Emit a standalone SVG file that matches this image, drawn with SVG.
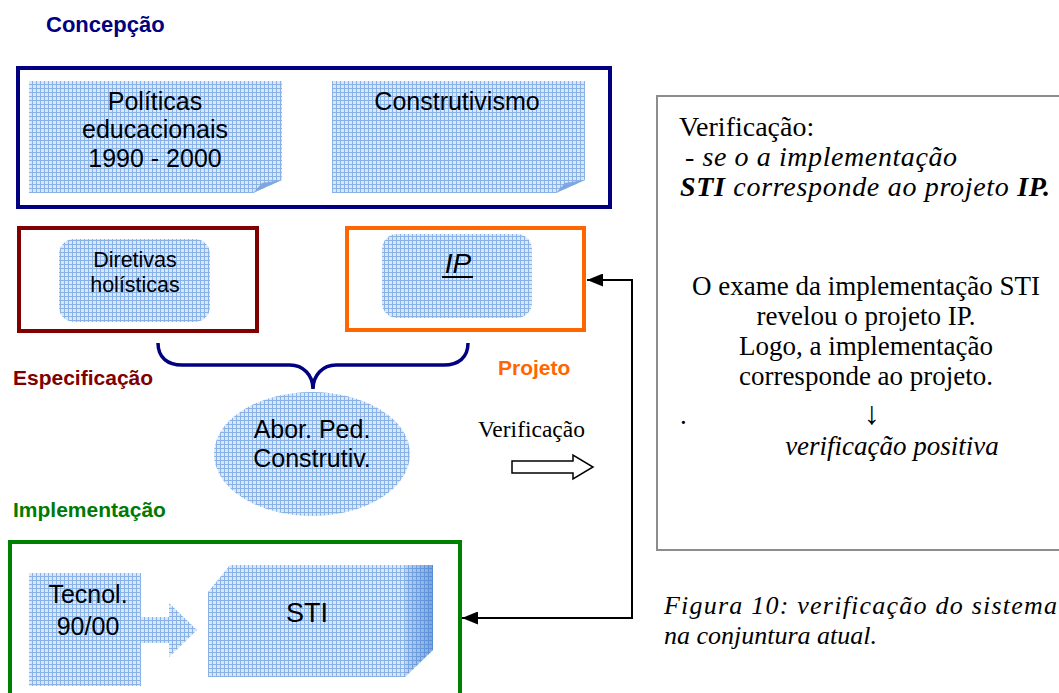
<svg xmlns="http://www.w3.org/2000/svg" width="1059" height="693" viewBox="0 0 1059 693">
<defs>
<pattern id="grid" width="4" height="4" patternUnits="userSpaceOnUse">
<rect width="4" height="4" fill="#dae7f8"/>
<path d="M0 0.5H4M0.5 0V4" stroke="#88b2e8" stroke-width="1"/>
</pattern>
<linearGradient id="side" x1="0" y1="0" x2="1" y2="0">
<stop offset="0" stop-color="#2f6fc8" stop-opacity="0.15"/>
<stop offset="1" stop-color="#2f6fc8" stop-opacity="0.55"/>
</linearGradient>
<marker id="ah" viewBox="0 0 16 13" refX="16" refY="6.5" markerWidth="16" markerHeight="13" markerUnits="userSpaceOnUse" orient="auto-start-reverse">
<path d="M0 0L16 6.5L0 13Z" fill="#000"/>
</marker>
<style>
.sans{font-family:"Liberation Sans",Arial,sans-serif;fill:#000}
.serif{font-family:"Liberation Serif","Times New Roman",serif;fill:#000}
.lbl{font-family:"Liberation Sans",Arial,sans-serif;font-weight:bold;font-size:21px}
.c{text-anchor:middle}
.frame{fill:none;stroke-width:4}
.g{fill:url(#grid)}
</style>
</defs>
<rect width="1059" height="693" fill="#fff"/>

<g id="labels">
<text class="lbl" x="46" y="32" fill="#000080" font-size="22" style="font-size:22px">Concepção</text>
<text class="lbl" x="13" y="385" fill="#800000">Especificação</text>
<text class="lbl" x="498" y="375" fill="#ff6600">Projeto</text>
<text class="lbl" x="13" y="517" fill="#007a00">Implementação</text>
</g>

<g id="concepcao">
<rect class="frame" x="18" y="68" width="592" height="139" stroke="#000080"/>
<g id="politicas">
<path class="g" d="M29 81H282V180L253 193H29Z"/>
<path d="M253 193L282 180L262 183Z" fill="#7fa7df"/>
<text class="sans c" font-size="25" x="155" y="110">Políticas</text>
<text class="sans c" font-size="25" x="155" y="138">educacionais</text>
<text class="sans c" font-size="25" x="155" y="167">1990 - 2000</text>
</g>
<g id="construtivismo">
<path class="g" d="M332 81H585V180L556 193H332Z"/>
<path d="M556 193L585 180L565 183Z" fill="#7fa7df"/>
<text class="sans c" font-size="25" x="457" y="110">Construtivismo</text>
</g>
</g>

<g id="especificacao">
<rect class="frame" x="19" y="228" width="238" height="103" stroke="#800000"/>
<rect class="g" x="59" y="239" width="151" height="83" rx="15"/>
<text class="sans c" font-size="21.5" x="135" y="267">Diretivas</text>
<text class="sans c" font-size="21.5" x="135" y="292">holísticas</text>
</g>

<g id="projeto">
<rect class="frame" x="347" y="228" width="237" height="102" stroke="#ff6600"/>
<rect class="g" x="382" y="234" width="150" height="84" rx="15"/>
<text class="sans c" font-size="28" font-style="italic" x="458" y="273">IP</text>
<line x1="442" y1="277" x2="473" y2="277" stroke="#000" stroke-width="2"/>
</g>

<g id="abordagem">
<ellipse class="g" cx="312" cy="454" rx="98" ry="62"/>
<text class="sans c" font-size="25" x="312" y="438">Abor. Ped.</text>
<text class="sans c" font-size="25" x="312" y="467">Construtiv.</text>
</g>

<g id="implementacao">
<rect class="frame" x="10" y="542" width="450" height="200" stroke="#008000"/>
<g id="tecnol">
<rect class="g" x="29" y="573" width="112" height="113"/>
<path class="g" d="M141 617H169V603L197 630L169 657V643H141Z"/>
<text class="sans c" font-size="25" x="88" y="603">Tecnol.</text>
<text class="sans c" font-size="25" x="88" y="635">90/00</text>
</g>
<g id="sti">
<path class="g" d="M208 592L230 565H433V650L405 677H208Z"/>
<path d="M405 565H433V650L405 677Z" fill="url(#side)"/>
<text class="sans c" font-size="27" x="307" y="622">STI</text>
</g>
</g>

<g id="connectors">
<path d="M158 343C158 358 168 365 182 365H290C303 365 313 375 313 389C313 375 323 365 336 365H444C458 365 468 358 468 343" fill="none" stroke="#000080" stroke-width="3.5"/>
<path d="M587 280H632V618H462" fill="none" stroke="#000" stroke-width="2" marker-start="url(#ah)" marker-end="url(#ah)"/>
<path d="M512 461H573V455L593 467L573 479V473H512Z" fill="#fff" stroke="#000" stroke-width="1.5"/>
<text class="serif" font-size="23.5" x="478" y="437">Verificação</text>
</g>

<g id="verificacao-box">
<rect x="657" y="96" width="420" height="454" fill="none" stroke="#8c8c8c" stroke-width="2"/>
<text class="serif" font-size="28" x="679" y="136">Verificação:</text>
<text class="serif" font-size="28" font-style="italic" x="685" y="166" textLength="272" lengthAdjust="spacing">- se o a implementação</text>
<text class="serif" font-size="28" font-style="italic" x="680" y="196" textLength="370" lengthAdjust="spacing"><tspan font-weight="bold">STI</tspan> corresponde ao projeto <tspan font-weight="bold">IP.</tspan></text>
<text class="serif c" font-size="27" x="866" y="295">O exame da implementação STI</text>
<text class="serif c" font-size="27" x="866" y="325">revelou o projeto IP.</text>
<text class="serif c" font-size="27" x="866" y="355">Logo, a implementação</text>
<text class="serif c" font-size="27" x="866" y="385">corresponde ao projeto.</text>
<text class="serif" font-size="27" x="680" y="424">.</text>
<text class="serif c" font-size="32" x="872" y="424">↓</text>
<text class="serif c" font-size="27" font-style="italic" x="892" y="455">verificação positiva</text>
</g>

<g id="caption">
<text class="serif" font-size="26" font-style="italic" x="664" y="614" textLength="393" lengthAdjust="spacing">Figura 10: verificação do sistema</text>
<text class="serif" font-size="26" font-style="italic" x="664" y="644">na conjuntura atual.</text>
</g>
</svg>
